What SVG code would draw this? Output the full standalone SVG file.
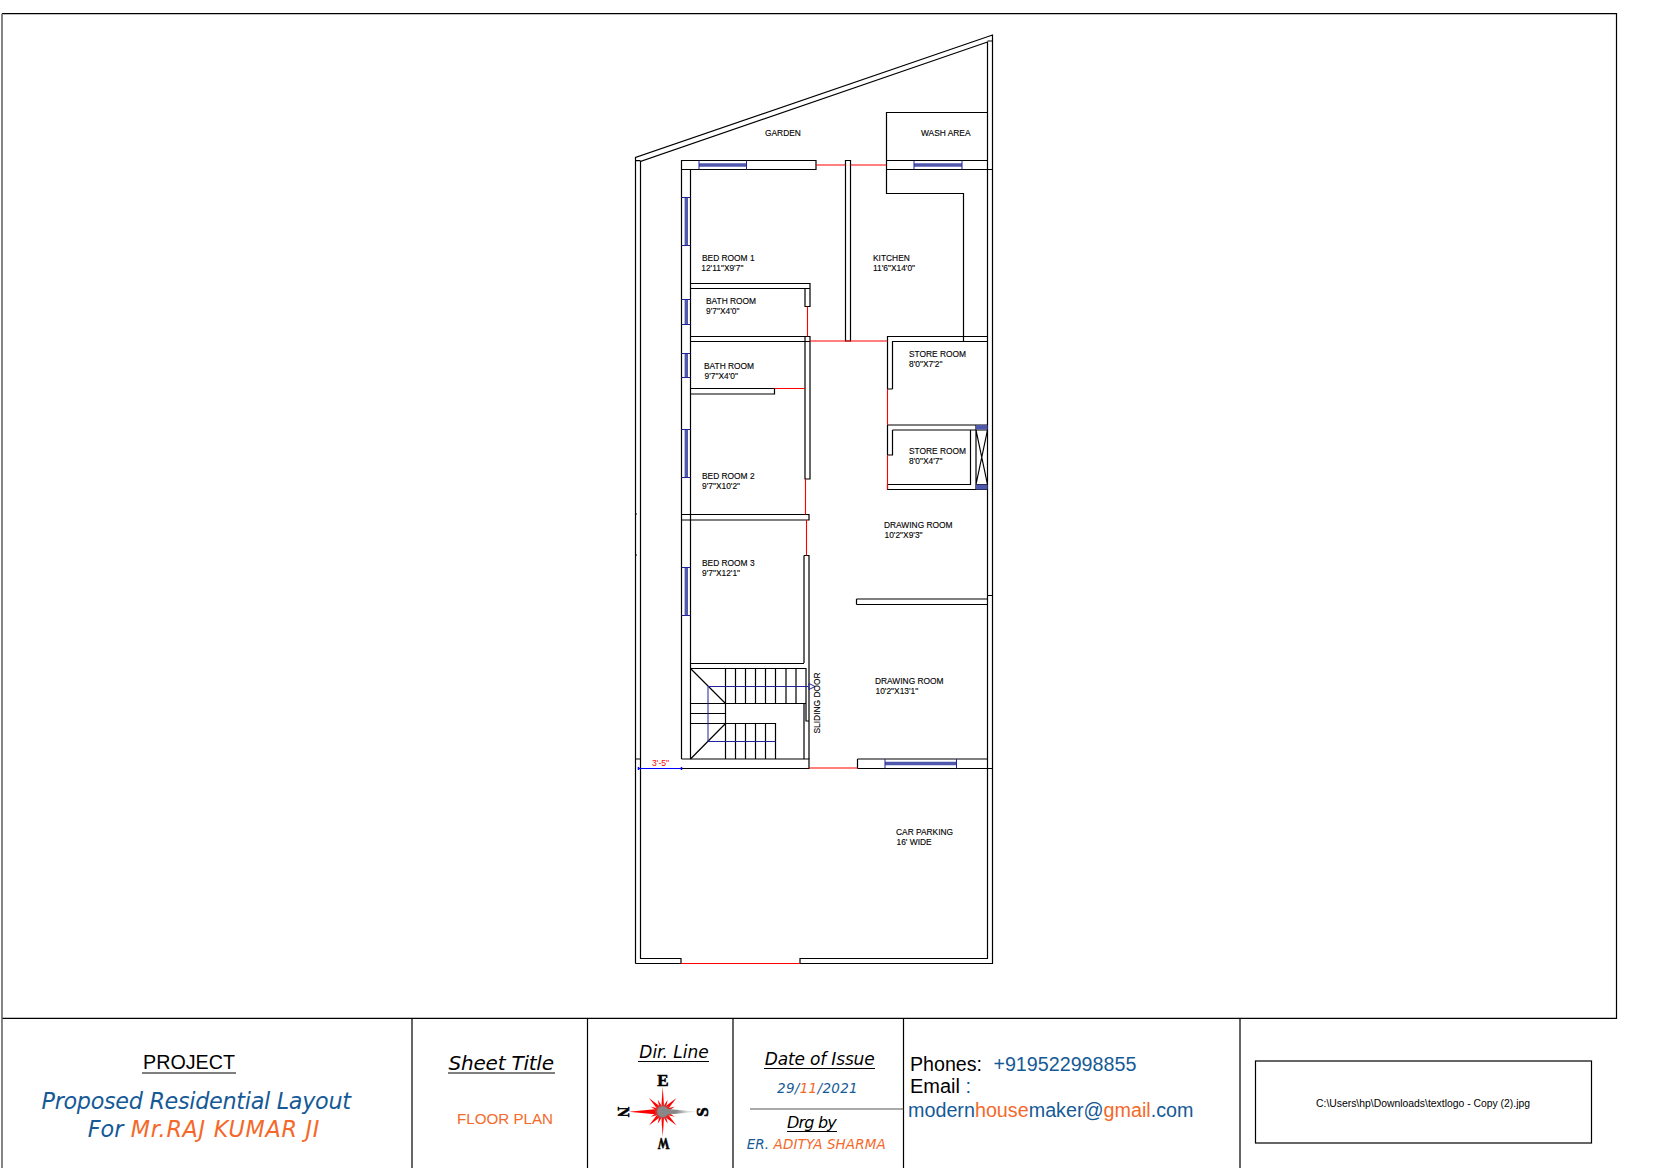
<svg xmlns="http://www.w3.org/2000/svg" width="1653" height="1168" viewBox="0 0 1653 1168">
<style>
text{font-family:"Liberation Sans",Arial,sans-serif;fill:#000}
.l{font-size:8.4px;stroke:#000;stroke-width:.12}
.w{fill:none;stroke:#000;stroke-width:1.2}
.g{fill:none;stroke:#555;stroke-width:1.2}
.r{fill:none;stroke:#f00;stroke-width:1.1}
.b{fill:none;stroke:#22229a;stroke-width:1}
.bw{fill:none;stroke:#5058ae;stroke-width:3.4}
.v{font-family:"DejaVu Sans",Verdana,sans-serif;font-style:italic}
.blue{fill:#155a96}
.or{fill:#f4692a}
.u{stroke:#000;stroke-width:1.1}
.d{font-family:"Liberation Serif",serif;font-size:17px;font-weight:bold;stroke:#000;stroke-width:.6;text-anchor:middle}
</style>
<defs>
<linearGradient id="sr" gradientUnits="userSpaceOnUse" x1="0" y1="-25" x2="0" y2="-2"><stop offset="0" stop-color="#f00"/><stop offset=".7" stop-color="#f00"/><stop offset="1" stop-color="#888"/></linearGradient>
<linearGradient id="sg" gradientUnits="userSpaceOnUse" x1="0" y1="-25" x2="0" y2="-2"><stop offset="0" stop-color="#ddd"/><stop offset=".5" stop-color="#888"/><stop offset="1" stop-color="#888"/></linearGradient>
<polygon id="big" points="0,-25 1.5,-3 -1.5,-3"/>
<polygon id="wide" points="0,-34 3,-3 -3,-3"/>
<polygon id="mid" points="0,-19.5 2.2,-3 -2.2,-3"/>
<polygon id="sm" points="0,-13 2,-2 -2,-2"/>
</defs>
<rect width="1653" height="1168" fill="#fff"/>
<g id="sheet-frame">
<path class="w" d="M2 13.7H1616.5V1018.4H2M412 1018V1168M587.5 1018V1168M733 1018V1168M903.5 1018V1168M1240 1018V1168"/>
<path d="M2 13.7V1168" stroke="#666" stroke-width="1.6" fill="none"/>
</g>
<g id="plot-boundary">
<path class="w" d="M635.5 963.5V157.5L992.5 35V963.5H800V958.5H987.5V42L640.5 161.5V958.5H681V963.5H635.5"/>
<path class="w" d="M635.5 160.7H640.5M987.5 41H992.5M635.5 759H640.5M987.5 595.5H992.5M635.5 514H637M635.5 555H637M987.5 169.5H992.5"/>
<path class="r" d="M681 963.5H800"/>
</g>
<g id="walls">
<path class="w" d="M681.5 160.5H816V169.5H681.5ZM681.5 169.5V759M690.5 169.5V759"/>
<path class="w" d="M845.5 160.5H850.5V341H845.5ZM886.5 160.5V112.5H987.5M886.5 160.5H987.5M886.5 169.5H992.5M886.5 160.5V193.5H963.5V341"/>
<path class="w" d="M690.5 283.5H810V288.5H690.5M805 288.5V306.5H810V283.5M690.5 336.5H810V341.5H690.5M805 336.5V479H810V336.5"/>
<path class="w" d="M690.5 388.5H774.5V394H690.5M681.5 514.5H809V520H681.5M809 514.5V520M804 555.5H809V759M804 555.5V663M804 703V759"/>
<path class="w" d="M887.5 389V336.5H987.5M892.5 389V341.5H987.5M887.5 389H892.5M887.5 425H976M892.5 430H976M887.5 425V455H892.5V430M887.5 484.5H970.5V430M887.5 484.5V489.5H987.5M976 425V489.5M976 425H987.5M976 430H987.5M976 484.5H987.5M976 430L987.5 484.5M987.5 430L976 484.5"/>
<path class="w" d="M856.5 599H987.5M856.5 604.5H987.5M856.5 599V604.5"/>
<path class="w" d="M681.5 759H809V768.5H640M809 759V768.5M857.5 759V768.5M857.5 759H987.5M857.5 768.5H992.5"/>
</g>
<g id="openings">
<path class="r" d="M816 165H845.5M850.5 165H886.5M807.5 306.5V336.5M810 341H887.5M774.5 388.5H805M887.5 389V425M887.5 455V489.5M805.5 479V514.5M806.5 520V555.5M809 768H857.5"/>
</g>
<g id="windows">
<path class="bw" d="M699 165H746.5M914 165H962M686.3 198V245.5M686.3 300V324M686.3 353.5V377M686.3 429.5V477M686.3 567.5V615M885 763.5H956.5"/>
<path class="b" d="M699 160.5V169.5M746.5 160.5V169.5M914 160.5V169.5M962 160.5V169.5M681.5 197.5H690.5M681.5 245.5H690.5M681.5 299.5H690.5M681.5 324.5H690.5M681.5 353.5H690.5M681.5 377.5H690.5M681.5 429.5H690.5M681.5 477.5H690.5M681.5 567.5H690.5M681.5 615.5H690.5M885 759V768.5M956.5 759V768.5"/>
<rect x="976" y="425" width="11.5" height="4.5" fill="#5058ae"/>
<rect x="976" y="484.5" width="11.5" height="5" fill="#5058ae"/>
</g>
<g id="stairs">
<path class="w" d="M690.5 663.5H804M690.5 668.5H806V703.5H690.5M690.5 713.5H725.5M690.5 723.5H775.5V759M725.5 668.5V759M735.5 668.5V703.5M745.5 668.5V703.5M755.5 668.5V703.5M765.5 668.5V703.5M775.5 668.5V703.5M786 668.5V703.5M796 668.5V703.5M735.5 723.5V759M745.5 723.5V759M755.5 723.5V759M765.5 723.5V759M690.5 668.5L725.5 703.5M725.5 723.5L690.5 759M806 703.5V721H809"/>
<path class="b" d="M708 741.5V686.5H808M708 741.5H775.5M809 683.5L815 686.5L809 689.5Z"/>
</g>
<g id="dimension">
<path d="M638.5 768.5H681.5" stroke="#00f" stroke-width="1.2" fill="none"/>
<path d="M638.5 767V770M681.5 767V770" stroke="#00f" stroke-width="1.5" fill="none"/>
<text x="652" y="766" font-size="8.6" style="fill:#f00">3'-5"</text>
</g>
<g id="labels">
<text class="l" x="765" y="136">GARDEN</text>
<text class="l" x="921" y="136">WASH AREA</text>
<text class="l" x="702" y="260.7">BED ROOM 1</text>
<text class="l" x="701.3" y="270.7">12'11"X9'7"</text>
<text class="l" x="873" y="260.7">KITCHEN</text>
<text class="l" x="873" y="270.7">11'6"X14'0"</text>
<text class="l" x="706" y="304">BATH ROOM</text>
<text class="l" x="706" y="314">9'7"X4'0"</text>
<text class="l" x="704" y="369">BATH ROOM</text>
<text class="l" x="704.5" y="379">9'7"X4'0"</text>
<text class="l" x="909" y="357">STORE ROOM</text>
<text class="l" x="909" y="367">8'0"X7'2"</text>
<text class="l" x="909" y="454">STORE ROOM</text>
<text class="l" x="909" y="464">8'0"X4'7"</text>
<text class="l" x="702" y="479">BED ROOM 2</text>
<text class="l" x="702" y="489">9'7"X10'2"</text>
<text class="l" x="702" y="566">BED ROOM 3</text>
<text class="l" x="702" y="576">9'7"X12'1"</text>
<text class="l" x="884" y="528">DRAWING ROOM</text>
<text class="l" x="884.5" y="538">10'2"X9'3"</text>
<text class="l" x="875" y="684">DRAWING ROOM</text>
<text class="l" x="875.5" y="694">10'2"X13'1"</text>
<text class="l" x="896" y="835">CAR PARKING</text>
<text class="l" x="896.5" y="845">16' WIDE</text>
<text class="l" transform="translate(820 733.5) rotate(-90) scale(1 1.15)">SLIDING DOOR</text>
</g>
<g id="title-block">
<text x="143" y="1069" font-size="20" textLength="92" lengthAdjust="spacingAndGlyphs">PROJECT</text>
<path class="u" d="M142 1073H236"/>
<text class="v blue" x="41.5" y="1109.3" font-size="22.3" textLength="309.5">Proposed Residential Layout</text>
<text class="v" y="1137" font-size="22.3"><tspan class="blue" x="87.7">For</tspan> <tspan class="or" x="130.8" textLength="188.6">Mr.RAJ KUMAR JI</tspan></text>
<text class="v" x="448.6" y="1070" font-size="20" textLength="105.4">Sheet Title</text>
<path class="u" d="M448 1073H555"/>
<text class="or" x="457" y="1124" font-size="15.5" textLength="96" lengthAdjust="spacingAndGlyphs">FLOOR PLAN</text>
<text class="v" x="639.3" y="1057.8" font-size="17" textLength="69.4">Dir. Line</text>
<path class="u" d="M638 1061.5H709"/>
<text class="v" x="764.7" y="1065" font-size="17" textLength="110">Date of Issue</text>
<path class="u" d="M764 1068.5H875"/>
<text class="v" x="777" y="1093.3" font-size="13.5" textLength="80.7"><tspan class="blue">29/</tspan><tspan class="or">11</tspan><tspan class="blue">/2021</tspan></text>
<path class="g" d="M750 1109H903.5"/>
<text class="v" x="787" y="1128.3" font-size="16" textLength="49.7">Drg by</text>
<path class="u" d="M787 1131.5H837"/>
<text class="v" x="746.7" y="1149.3" font-size="13.5" textLength="139"><tspan class="blue">ER. </tspan><tspan class="or">ADITYA SHARMA</tspan></text>
<text y="1070.7" font-size="20"><tspan x="910" textLength="72" lengthAdjust="spacingAndGlyphs">Phones:</tspan> <tspan class="blue" x="993.4" textLength="143" lengthAdjust="spacingAndGlyphs">+919522998855</tspan></text>
<text x="910" y="1093.2" font-size="20">Email <tspan class="blue">:</tspan></text>
<text x="908" y="1117" font-size="20" textLength="285.5" lengthAdjust="spacingAndGlyphs"><tspan class="blue">modern</tspan><tspan class="or">house</tspan><tspan class="blue">maker@</tspan><tspan class="or">gmail</tspan><tspan class="blue">.com</tspan></text>
<rect x="1255.5" y="1061" width="336" height="82" fill="none" stroke="#000" stroke-width="1.2"/>
<text x="1316" y="1107" font-size="10" textLength="214" lengthAdjust="spacingAndGlyphs">C:\Users\hp\Downloads\textlogo - Copy (2).jpg</text>
</g>
<g id="north-point">
<g transform="translate(662.7 1111.7)" fill="url(#sr)">
<use href="#sm" transform="rotate(22.5)"/><use href="#sm" transform="rotate(67.5)"/><use href="#sm" transform="rotate(112.5)"/><use href="#sm" transform="rotate(157.5)"/><use href="#sm" transform="rotate(202.5)"/><use href="#sm" transform="rotate(247.5)"/><use href="#sm" transform="rotate(292.5)"/><use href="#sm" transform="rotate(337.5)"/>
<use href="#mid" transform="rotate(45)"/><use href="#mid" transform="rotate(135)"/><use href="#mid" transform="rotate(225)"/><use href="#mid" transform="rotate(315)"/>
<use href="#big"/>
<use href="#big" transform="rotate(180)"/>
<use href="#wide" transform="rotate(270)"/>
<use href="#wide" transform="rotate(90)" fill="url(#sg)"/>
<circle r="5.5" fill="#888"/>
</g>
<text class="d" x="663" y="1086">E</text>
<text class="d" transform="translate(618 1112) rotate(90) scale(.85 1)">N</text>
<text class="d" transform="translate(708 1112) rotate(-90)">S</text>
<text class="d" transform="translate(663.5 1138) rotate(180) scale(.7 1)">W</text>
</g>
</svg>
